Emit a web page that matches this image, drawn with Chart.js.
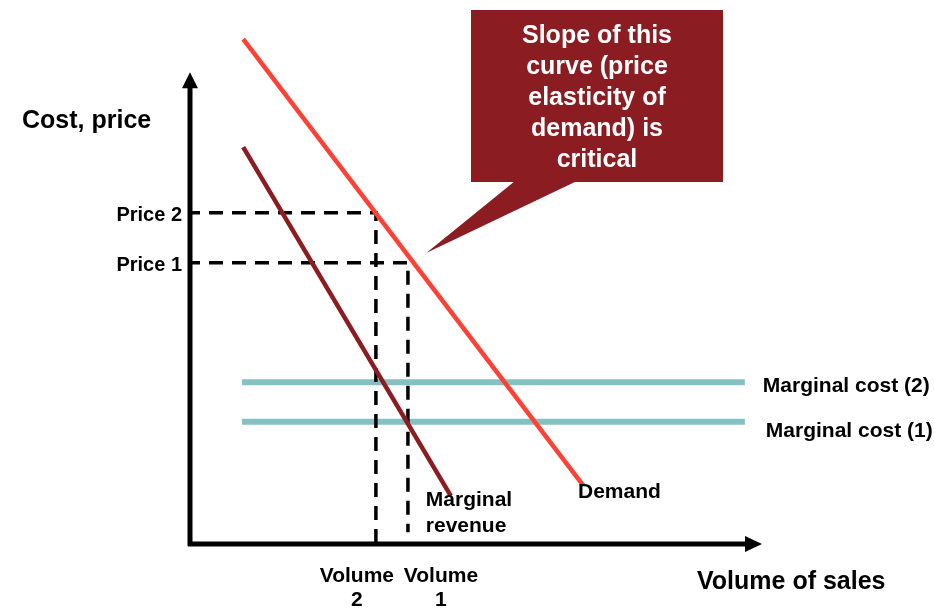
<!DOCTYPE html>
<html>
<head>
<meta charset="utf-8">
<script src="https://cdn.jsdelivr.net/npm/chart.js@4.4.1/dist/chart.umd.min.js"></script>
<style>
  body { margin: 0; background: #fff; }
  #wrap { width: 934px; height: 609px; position: relative; }
</style>
</head>
<body>
<div id="wrap"><canvas id="chart"></canvas></div>
<script>
// volume on x (0-100), cost/price on y (0-110)
const demandX = [9.3, 68.7];
const demandY = [107.0, 12.5];
const revenueX = [9.3, 45.6];
const revenueY = [84.1, 10.2];
const costX = [9.1, 97.0];
const costLevels = [25.9, 34.3];      // Marginal cost (1), (2)
const priceLevels = [59.6, 70.2];     // Price 1, Price 2
const volumeLevels = [38.1, 32.5];    // Volume 1, Volume 2
const volumeDrop = [2.5, -0.6];       // where the dashed drop lines stop
const priceLabels = ["Price 1", "Price 2"];
const volumeLabels = [["Volume", "1"], ["Volume", "2"]];
const costLabels = ["Marginal cost (1)", "Marginal cost (2)"];
const calloutAt = [41.3, 61.7];
const calloutText = ["Slope of this", "curve (price", "elasticity of", "demand) is", "critical"];

const FONT = "'Liberation Sans', Arial, sans-serif";
const RED = "#ff4034";
const DARK = "#8b1d22";
const TEAL = "#86c1c2";

const pts = (xs, ys) => xs.map((x, i) => ({ x: x, y: ys[i] }));

// first dataset ends up on top
const datasets = [];
datasets.push({ data: pts(revenueX, revenueY), borderColor: DARK, borderWidth: 4.5 });
datasets.push({ data: pts(demandX, demandY), borderColor: RED, borderWidth: 4.5 });
// dashed guides: price level -> demand, then down to the volume axis
priceLevels.forEach((p, i) => {
  datasets.push({
    data: [{ x: 0, y: p }, { x: volumeLevels[i], y: p }, { x: volumeLevels[i], y: volumeDrop[i] }],
    borderColor: "#000", borderWidth: 3.5, borderDash: [14, 9], borderDashOffset: 4
  });
});
costLevels.forEach(c => {
  datasets.push({ data: pts(costX, [c, c]), borderColor: TEAL, borderWidth: 6 });
});

const annotate = {
  id: "annotate",
  afterDatasetsDraw(chart) {
    const ctx = chart.ctx;
    const xs = chart.scales.x, ys = chart.scales.y;
    const x0 = xs.getPixelForValue(0), y0 = ys.getPixelForValue(0);
    const xEnd = xs.getPixelForValue(100), yEnd = ys.getPixelForValue(100);
    ctx.save();

    // axes with arrowheads
    ctx.strokeStyle = "#000";
    ctx.fillStyle = "#000";
    ctx.lineWidth = 5;
    ctx.beginPath();
    ctx.moveTo(x0, y0 + 2);
    ctx.lineTo(x0, yEnd + 14);
    ctx.moveTo(x0 - 2, y0);
    ctx.lineTo(xEnd - 16, y0);
    ctx.stroke();
    ctx.beginPath();
    ctx.moveTo(x0, yEnd);
    ctx.lineTo(x0 - 8, yEnd + 16);
    ctx.lineTo(x0 + 8, yEnd + 16);
    ctx.closePath();
    ctx.fill();
    ctx.beginPath();
    ctx.moveTo(xEnd, y0);
    ctx.lineTo(xEnd - 17, y0 - 8);
    ctx.lineTo(xEnd - 17, y0 + 8);
    ctx.closePath();
    ctx.fill();

    ctx.font = "bold 25px " + FONT;
    ctx.textAlign = "left";
    ctx.textBaseline = "alphabetic";
    ctx.fillText("Cost, price", 22, 128);
    ctx.fillText("Volume of sales", 697, 589);

    ctx.font = "bold 20px " + FONT;
    ctx.textAlign = "right";
    priceLevels.forEach((p, i) => {
      ctx.fillText(priceLabels[i], x0 - 8, ys.getPixelForValue(p) + 8);
    });

    ctx.font = "bold 21px " + FONT;
    ctx.textAlign = "center";
    const shift = [33, -19];
    volumeLevels.forEach((v, i) => {
      const cx = xs.getPixelForValue(v) + shift[i];
      ctx.fillText(volumeLabels[i][0], cx, 582);
      ctx.fillText(volumeLabels[i][1], cx, 606);
    });

    ctx.textAlign = "left";
    const cEnd = xs.getPixelForValue(costX[1]);
    const cOff = [[21, 15], [18, 10]];
    costLevels.forEach((c, i) => {
      ctx.fillText(costLabels[i], cEnd + cOff[i][0], ys.getPixelForValue(c) + cOff[i][1]);
    });

    const dx = xs.getPixelForValue(demandX[1]), dy = ys.getPixelForValue(demandY[1]);
    ctx.fillText("Demand", dx - 5, dy + 13);
    const rx = xs.getPixelForValue(revenueX[1]), ry = ys.getPixelForValue(revenueY[1]);
    ctx.fillText("Marginal", rx - 25, ry + 10);
    ctx.fillText("revenue", rx - 25, ry + 36);

    // callout box pointing at the demand curve
    const ax = xs.getPixelForValue(calloutAt[0]), ay = ys.getPixelForValue(calloutAt[1]);
    ctx.fillStyle = DARK;
    ctx.fillRect(471, 10, 252, 172);
    ctx.beginPath();
    ctx.moveTo(515, 181);
    ctx.lineTo(577, 181);
    ctx.lineTo(ax, ay);
    ctx.closePath();
    ctx.fill();
    ctx.fillStyle = "#fff";
    ctx.font = "bold 25px " + FONT;
    ctx.textAlign = "center";
    calloutText.forEach((t, i) => ctx.fillText(t, 597, 43 + i * 31));

    ctx.restore();
  }
};

new Chart(document.getElementById("chart"), {
  type: "scatter",
  data: { datasets: datasets },
  options: {
    responsive: true,
    maintainAspectRatio: false,
    animation: false,
    showLine: true,
    elements: { point: { radius: 0, hoverRadius: 0 }, line: { tension: 0, borderCapStyle: "butt" } },
    layout: { padding: { left: 190, right: 172, top: 25, bottom: 65 } },
    scales: {
      x: { type: "linear", min: 0, max: 100, display: false },
      y: { type: "linear", min: 0, max: 110, display: false }
    },
    plugins: { legend: { display: false }, tooltip: { enabled: false } },
    clip: false
  },
  plugins: [annotate]
});
</script>
</body>
</html>
